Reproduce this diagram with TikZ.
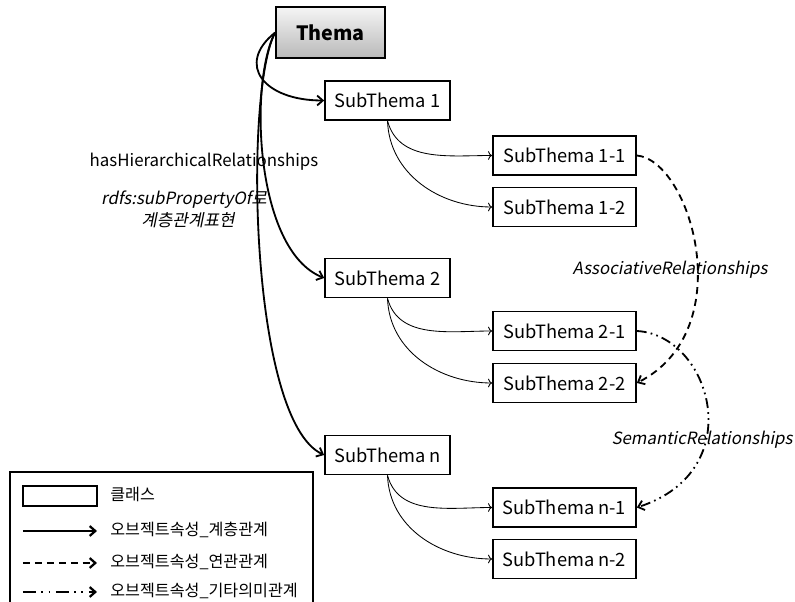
\documentclass[tikz,border=0pt]{standalone}
\usepackage{fontspec}
\setmainfont{Noto Sans CJK KR}[AutoFakeSlant=0.2]
\usepackage{tikz}
\usetikzlibrary{shapes}
\usetikzlibrary{arrows.meta}
\pgfdeclarelayer{edgelayer}
\pgfdeclarelayer{nodelayer}
\pgfsetlayers{edgelayer,nodelayer,main}
\tikzstyle{none}=[inner sep=0pt]
\tikzstyle{thema}=[draw, line width=1.2pt, top color=gray!8, bottom color=gray!55, minimum width=2.725cm, minimum height=1.275cm, font=\fontsize{14}{16}\selectfont\bfseries]
\tikzstyle{subthema}=[draw, fill=white, line width=1.2pt, minimum width=3.125cm, minimum height=0.975cm, font=\fontsize{13}{15}\selectfont]
\tikzstyle{subsub}=[subthema, minimum width=3.575cm]
\tikzstyle{legendbox}=[draw, line width=1.2pt, minimum width=1.85cm, minimum height=0.5cm]
\tikzstyle{label}=[inner sep=0pt, font=\fontsize{12}{14}\selectfont]
\tikzstyle{legendtext}=[inner sep=0pt, anchor=west, font=\fontsize{11.5}{13}\selectfont]
\tikzstyle{hierline}=[-{Straight Barb[length=4pt,width=7pt]}, line width=1.3pt]
\tikzstyle{subline}=[->, line width=0.6pt]
\tikzstyle{assocline}=[-{Straight Barb[length=4pt,width=7pt]}, line width=1.3pt, dash pattern=on 5pt off 3.5pt]
\tikzstyle{semline}=[-{Straight Barb[length=4pt,width=7pt]}, line width=1.3pt, dash pattern=on 7pt off 3pt on 1.2pt off 3pt on 1.2pt off 3pt]

\begin{document}
\begin{tikzpicture}
	\useasboundingbox (0, 0) rectangle (19.875, -15.05);
	\begin{pgfonlayer}{nodelayer}
		\node [style=thema] (0) at (8.2625, -0.8125) {Thema};
		\node [style=subthema] (1) at (9.6875, -2.5125) {SubThema 1};
		\node [style=subthema] (2) at (9.6875, -6.95) {SubThema 2};
		\node [style=subthema] (3) at (9.6875, -11.375) {SubThema n};
		\node [style=subsub] (4) at (14.1125, -3.8875) {SubThema 1-1};
		\node [style=subsub] (5) at (14.1125, -5.175) {SubThema 1-2};
		\node [style=subsub] (6) at (14.1125, -8.275) {SubThema 2-1};
		\node [style=subsub] (7) at (14.1125, -9.575) {SubThema 2-2};
		\node [style=subsub] (8) at (14.1125, -12.6875) {SubThema n-1};
		\node [style=subsub] (9) at (14.1125, -13.975) {SubThema n-2};
		\node [style=label] (10) at (5.1, -4.05) {hasHierarchicalRelationships};
		\node [style=label] (11) at (4.6, -5.0) {\itshape rdfs:subPropertyOf로};
		\node [style=label] (12) at (4.7, -5.5) {\itshape 계층관계표현};
		\node [style=label] (13) at (16.75, -6.75) {\itshape AssociativeRelationships};
		\node [style=label] (14) at (17.55, -11.0) {\itshape SemanticRelationships};
		% legend
		\node [style=legendbox] (15) at (1.5, -12.4) {};
		\node [style=legendtext] (16) at (2.75, -12.35) {클래스};
		\node [style=none] (17) at (0.575, -13.275) {};
		\node [style=none] (18) at (2.425, -13.275) {};
		\node [style=legendtext] (19) at (2.75, -13.25) {오브젝트속성\_계층관계};
		\node [style=none] (20) at (0.575, -14.075) {};
		\node [style=none] (21) at (2.425, -14.075) {};
		\node [style=legendtext] (22) at (2.75, -14.05) {오브젝트속성\_연관관계};
		\node [style=none] (23) at (0.575, -14.8) {};
		\node [style=none] (24) at (2.425, -14.8) {};
		\node [style=legendtext] (25) at (2.75, -14.78) {오브젝트속성\_기타의미관계};
	\end{pgfonlayer}
	\begin{pgfonlayer}{edgelayer}
		\draw [line width=1pt] (0.25, -11.8) rectangle (7.825, -15.6);
		\draw [style=hierline] (0.west) .. controls +(-1.0, -0.8) and +(-1.5, 0) .. (1.west);
		\draw [style=hierline] (0.west) .. controls +(-0.65, -1.2) and +(-1.75, 0.7) .. (2.west);
		\draw [style=hierline] (0.west) .. controls +(-0.775, -1.425) and +(-1.875, 0.875) .. (3.west);
		\draw [style=subline] (1.south) to [out=-75, in=180] (4.west);
		\draw [style=subline] (1.south) to [out=-88, in=180] (5.west);
		\draw [style=subline] (2.south) to [out=-75, in=180] (6.west);
		\draw [style=subline] (2.south) to [out=-88, in=180] (7.west);
		\draw [style=subline] (3.south) to [out=-75, in=180] (8.west);
		\draw [style=subline] (3.south) to [out=-88, in=180] (9.west);
		\draw [style=assocline] (4.east) .. controls +(1.35, -0.125) and +(2.6, 1.325) .. (7.east);
		\draw [style=semline] (6.east) .. controls +(1.85, -0.1) and +(2.85, 0.925) .. (8.east);
		% legend lines
		\draw [style=hierline, line width=1.6pt] (17.center) to (18.center);
		\draw [style=assocline, line width=1.6pt] (20.center) to (21.center);
		\draw [style=semline, line width=1.6pt, dash pattern=on 9pt off 4pt on 1.2pt off 4pt on 1.2pt off 4pt] (23.center) to (24.center);
	\end{pgfonlayer}
\end{tikzpicture}
\end{document}
